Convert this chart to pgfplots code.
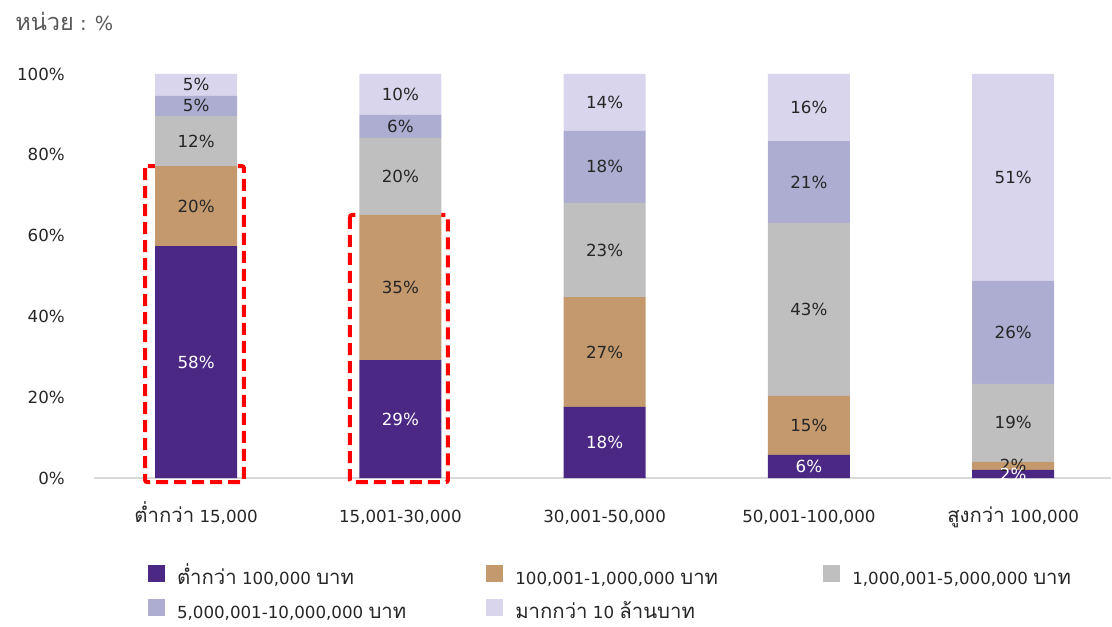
\documentclass[border=0pt]{standalone}
\usepackage{pgfplots}
\pgfplotsset{compat=1.18}
\usepackage{pgfplotstable}
\usepackage{fontspec}
\setmainfont{DejaVu Sans}
\newfontfamily\thai[Script=Thai,Scale=1.22]{Loma}
\definecolor{c1}{HTML}{4B2884}
\definecolor{c2}{HTML}{C3996D}
\definecolor{c3}{HTML}{BFBFBF}
\definecolor{c4}{HTML}{ADADD2}
\definecolor{c5}{HTML}{D9D5EC}
\definecolor{txt}{HTML}{262626}
\pgfplotstableread{
x a al b bl c cl d dl e el
0 57.4 58 19.8 20 12.4 12 5.0 5 5.4 5
1 29.2 29 35.9 35 19.1 20 5.7 6 10.1 10
2 17.6 18 27.2 27 23.3 23 17.8 18 14.1 14
3 5.7 6 14.6 15 42.8 43 20.3 21 16.6 16
4 2.0 2 2.0 2 19.3 19 25.5 26 51.2 51
}\data
\begin{document}
\fontsize{12.5pt}{15pt}\selectfont
\begin{tikzpicture}
\useasboundingbox (0,0) rectangle (834pt,469.5pt);
\node[anchor=west, text=black!65, inner sep=0pt, font=\fontsize{14.5pt}{17pt}\selectfont] at (11.25pt,453pt) {{\thai หน่วย} : \%};
\begin{axis}[
  at={(70.5pt,111pt)}, anchor=south west,
  scale only axis, width=762.75pt, height=303pt,
  xmin=-0.5, xmax=4.479, ymin=0, ymax=100,
  enlargelimits=false, clip=false,
  ybar stacked, bar width=61.5pt,
  axis x line=bottom, axis y line=left,
  y axis line style={draw=none},
  x axis line style={draw=black!15, line width=1pt, -},
  tick style={draw=none}, major tick length=0pt,
  xtick={0,1,2,3,4},
  xticklabels={{\thai ต่ำกว่า} 15{,}000, 15{,}001-30{,}000, 30{,}001-50{,}000, 50{,}001-100{,}000, {\thai สูงกว่า} 100{,}000},
  ytick={0,20,40,60,80,100},
  yticklabels={0\%,20\%,40\%,60\%,80\%,100\%},
  xticklabel style={anchor=base, inner sep=0pt, yshift=-33pt, text=txt},
  yticklabel style={anchor=east, inner sep=0pt, xshift=-21.75pt, text=txt},
  point meta=explicit symbolic,
  nodes near coords={\pgfplotspointmeta\%},
  every node near coord/.append style={anchor=center, inner sep=0pt, text=txt},
  legend image code/.code={\fill[#1] (0pt,-2pt) rectangle (12.75pt,10.75pt);},
  legend columns=3,
  legend style={at={(0.0531,-0.208)}, anchor=north west, draw=none, fill=none,
    inner sep=0pt, outer sep=0pt,
    nodes={inner sep=0pt, text height=17pt, text depth=8.5pt, text=txt},
    /tikz/column sep=0pt,
    /tikz/every odd column/.append style={column sep=9pt}},
  legend cell align=left,
]
\addplot[fill=c1, draw=none, every node near coord/.append style={text=white}] table[x=x,y=a,meta=al]{\data};
\addplot[fill=c2, draw=none] table[x=x,y=b,meta=bl]{\data};
\addplot[fill=c3, draw=none] table[x=x,y=c,meta=cl]{\data};
\addplot[fill=c4, draw=none] table[x=x,y=d,meta=dl]{\data};
\addplot[fill=c5, draw=none] table[x=x,y=e,meta=el]{\data};
\legend{{\makebox[232pt][l]{{\thai ต่ำกว่า} 100,000 {\thai บาท}}},{\makebox[231pt][l]{100,001-1,000,000 {\thai บาท}}},{1,000,001-5,000,000 {\thai บาท}},{\makebox[232pt][l]{5,000,001-10,000,000 {\thai บาท}}},{{\thai มากกว่า} 10 {\thai ล้านบาท}}}
\draw[red, line width=3pt, dash pattern=on 9pt off 4.5pt, rounded corners=1.5pt] (axis cs:-0.25,77.2) rectangle (axis cs:0.234,-1);
\draw[red, line width=3pt, dash pattern=on 9pt off 4.5pt, rounded corners=1.5pt] (axis cs:0.753,65.1) rectangle (axis cs:1.233,-1);
\end{axis}
\end{tikzpicture}
\end{document}
